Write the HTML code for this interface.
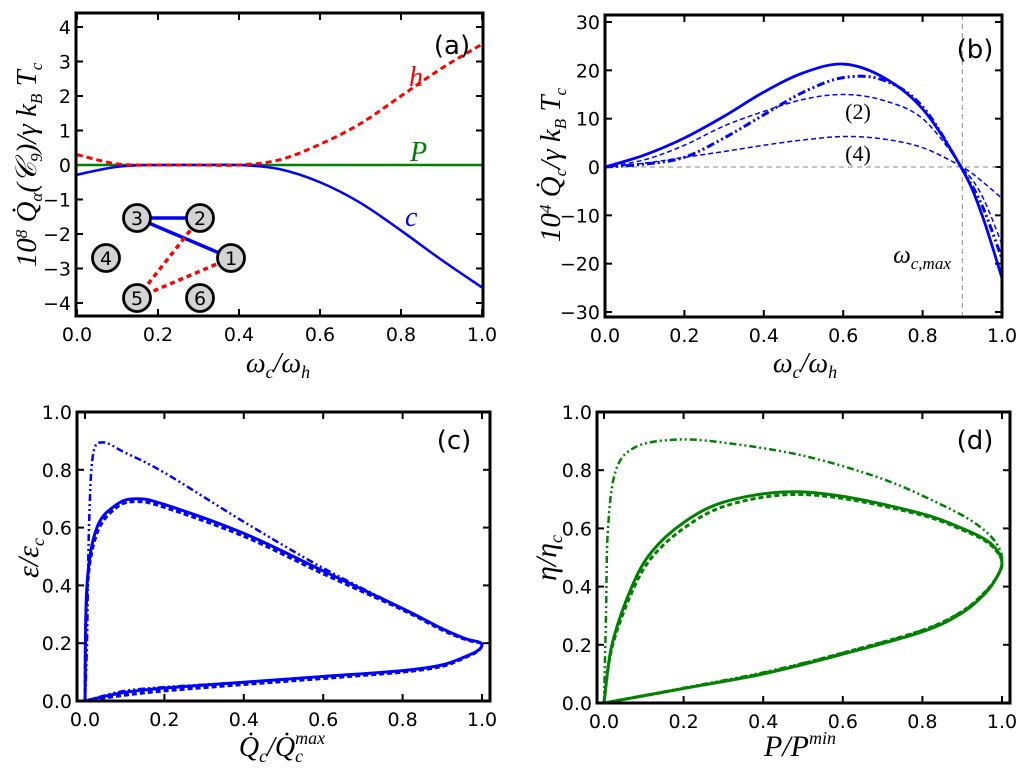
<!DOCTYPE html>
<html><head><meta charset="utf-8"><style>
body{margin:0;background:#fff}
svg{display:block;font-family:"DejaVu Sans","Liberation Sans",sans-serif}
.tk{font-size:19px}
.m{font-family:"Liberation Serif","DejaVu Serif",serif;font-style:italic}
</style></head><body>
<svg id="fig" width="1024" height="771" viewBox="0 0 1024 771"></svg>
<script>
// ---------- data ----------
const aX=[0,0.1,0.2,0.3,0.4,0.5,0.6,0.7,0.8,0.9,1.0];
const aH=[0.3,0.03,0,0,0,0.15,0.6,1.2,2.0,2.8,3.5];
const aC=[-0.28,-0.05,0,0,0,-0.12,-0.5,-1.1,-1.9,-2.75,-3.55];
const aP=[0,0,0,0,0,0,0,0,0,0,0];
const bX=[0,0.1,0.2,0.3,0.4,0.5,0.6,0.7,0.8,0.9,0.95,1.0];
const bSolid=[0,2.5,6,10.5,15.5,19.5,21.3,18.6,12,-0.5,-10,-23];
const bDashDot=[0,0.6,2,6,10.8,15.5,18.5,18,12.5,-0.5,-8,-19];
const bDash2=[0,1.5,4.5,8.5,11.5,14,15,13.8,10,0,-6,-16];
const bDash4=[0,0.8,2,3.2,4.5,5.6,6.3,5.8,4,0,-3,-6.5];
const cSolidX=[0,0.005,0.03,0.08,0.13,0.2,0.4,0.6,0.8,0.9,0.96,0.99,1.0,0.99,0.96,0.9,0.8,0.6,0.4,0.2,0.1,0.03,0];
const cSolidY=[0,0.4,0.6,0.68,0.7,0.68,0.58,0.45,0.32,0.25,0.215,0.205,0.195,0.175,0.155,0.125,0.105,0.085,0.065,0.045,0.03,0.01,0];
const cDashY=[0,0.38,0.58,0.67,0.69,0.67,0.57,0.44,0.315,0.245,0.212,0.203,0.195,0.173,0.152,0.12,0.1,0.078,0.057,0.035,0.02,0.006,0];
const cDdX=[0,0.005,0.01,0.02,0.045,0.1,0.2,0.4,0.6,0.8,0.9,0.96,0.99,1.0,0.99,0.96,0.9,0.8,0.6,0.4,0.2,0.1,0.03,0];
const cDdY=[0,0.2,0.6,0.85,0.895,0.86,0.79,0.62,0.46,0.32,0.25,0.215,0.205,0.195,0.175,0.155,0.125,0.105,0.085,0.065,0.048,0.035,0.012,0];
const dSolidX=[0,0.02,0.07,0.12,0.2,0.3,0.45,0.6,0.8,0.9,0.96,0.99,1.0,0.99,0.96,0.9,0.8,0.6,0.4,0.2,0];
const dSolidY=[0,0.2,0.4,0.52,0.62,0.69,0.725,0.71,0.65,0.6,0.56,0.52,0.48,0.44,0.38,0.31,0.245,0.168,0.1,0.05,0];
const dDashY=[0,0.19,0.38,0.5,0.6,0.675,0.715,0.703,0.645,0.595,0.555,0.515,0.48,0.44,0.385,0.315,0.25,0.172,0.102,0.05,0];
const dDdX=[0,0.005,0.01,0.03,0.08,0.18,0.3,0.5,0.7,0.85,0.93,0.98,1.0,0.99,0.96,0.9,0.8,0.6,0.4,0.2,0];
const dDdY=[0,0.3,0.6,0.8,0.88,0.905,0.895,0.85,0.77,0.68,0.62,0.56,0.5,0.44,0.385,0.315,0.25,0.172,0.105,0.052,0];
const ticks01=[0,0.2,0.4,0.6,0.8,1.0];
const aYt=[-4,-3,-2,-1,0,1,2,3,4];
const bYt=[-30,-20,-10,0,10,20,30];
// ---------- helpers ----------
const NS="http://www.w3.org/2000/svg",svg=document.getElementById('fig');
function el(t,a,p){const e=document.createElementNS(NS,t);for(const k in a)e.setAttribute(k,a[k]);(p||svg).appendChild(e);return e;}
function lin(d0,d1,r0,r1){return v=>r0+(v-d0)/(d1-d0)*(r1-r0);}
function smooth(pts){let d=`M${pts[0][0]},${pts[0][1]}`;for(let i=0;i<pts.length-1;i++){const p0=pts[i-1]||pts[i],p1=pts[i],p2=pts[i+1],p3=pts[i+2]||p2;
d+=`C${p1[0]+(p2[0]-p0[0])/6},${p1[1]+(p2[1]-p0[1])/6} ${p2[0]-(p3[0]-p1[0])/6},${p2[1]-(p3[1]-p1[1])/6} ${p2[0]},${p2[1]}`;}return d;}
function line(xs,ys,sx,sy,st,name,g){const p=el('path',{d:smooth(xs.map((x,i)=>[sx(x),sy(ys[i])])),fill:'none','stroke-linejoin':'round',...st},g);

return p;}
function axes(name,L,T,R,B,sx,sy,xt,yt,fx,fy){
 const g=el('g',{});
 
 
 xt.forEach(v=>{const x=sx(v);el('line',{x1:x,x2:x,y1:B,y2:B-7,stroke:'#000','stroke-width':2},g);el('line',{x1:x,x2:x,y1:T,y2:T+7,stroke:'#000','stroke-width':2},g);
  const t=el('text',{x:x,y:B+25,'text-anchor':'middle',class:'tk'},g);t.textContent=fx(v);
  
  });
 yt.forEach(v=>{const y=sy(v);el('line',{x1:L,x2:L+7,y1:y,y2:y,stroke:'#000','stroke-width':2},g);el('line',{x1:R,x2:R-7,y1:y,y2:y,stroke:'#000','stroke-width':2},g);
  const t=el('text',{x:L-5,y:y+7,'text-anchor':'end',class:'tk'},g);t.textContent=fy(v);
  
  });
 return g;}
function frame(L,T,R,B){const r=el('rect',{x:L,y:T,width:R-L,height:B-T,fill:'none',stroke:'#000','stroke-width':3});
 
 }
function txt(x,y,s,attrs,name){const t=el('text',{x,y,...attrs});t.innerHTML=s;
 
 return t;}
const f1=v=>v.toFixed(1), fi=v=>(v<0?'\u2212':'')+Math.abs(v);
const blue='#0000ff',red='#ff0000',green='#008000';
// ---------- panel a ----------
{const sx=lin(0,1,77,482),sy=lin(0,4,165,27);
 axes('panel-a-axes',76,13,483,316,sx,sy,ticks01,aYt,f1,fi);
 line(aX,aP,sx,sy,{stroke:green,'stroke-width':2.5},'p-line');
 line(aX,aC,sx,sy,{stroke:blue,'stroke-width':2.5},'c-line');
 line(aX,aH,sx,sy,{stroke:red,'stroke-width':3,'stroke-dasharray':'6,4'},'h-line');
 const N={1:[231,258],2:[200,218],3:[137,218],4:[106,258],5:[137,298],6:[200,298]};
 [[3,2],[3,1]].forEach(([a,b])=>{const l=el('line',{x1:N[a][0],y1:N[a][1],x2:N[b][0],y2:N[b][1],stroke:blue,'stroke-width':3.5});
  
  });
 [[5,2],[5,1]].forEach(([a,b])=>{const l=el('line',{x1:N[a][0],y1:N[a][1],x2:N[b][0],y2:N[b][1],stroke:red,'stroke-width':3.5,'stroke-dasharray':'5,4'});
  
  });
 for(const k in N){const c=el('circle',{cx:N[k][0],cy:N[k][1],r:13.5,fill:'#d3d3d3',stroke:'#000','stroke-width':2.8});
  
  
  txt(N[k][0],N[k][1]+7,k,{'text-anchor':'middle','font-size':19},'node-label');}
 frame(76,13,483,316);
 txt(452,54,'(a)',{'text-anchor':'middle','font-size':26},'panel-a-label');
 txt(409,86,'h',{class:'m','font-size':28,fill:red},'h-label');
 txt(410,161,'P',{class:'m','font-size':28,fill:green},'p-label');
 txt(405,226,'c',{class:'m','font-size':28,fill:blue},'c-label');
 txt(278,372,'ω<tspan dy="6" font-size="18">c</tspan><tspan dy="-6">/ω</tspan><tspan dy="6" font-size="18">h</tspan>',{class:'m','text-anchor':'middle','font-size':28},'x-axis-title-a');
 txt(0,0,'10<tspan dy="-9" font-size="17">8</tspan><tspan dy="9"> Q̇</tspan><tspan dy="6" font-size="17">α</tspan><tspan dy="-6">(𝒞</tspan><tspan dy="6" font-size="17">9</tspan><tspan dy="-6">)/γ k</tspan><tspan dy="6" font-size="17">B</tspan><tspan dy="-6"> T</tspan><tspan dy="6" font-size="17">c</tspan>',{class:'m','text-anchor':'middle','font-size':29,transform:'translate(36,165) rotate(-90)'},'y-axis-title-a');
}
// ---------- panel b ----------
{const sx=lin(0,1,605,1002),sy=lin(0,30,167,22);
 axes('panel-b-axes',605,15,1002,317,sx,sy,ticks01,bYt,f1,fi);
 const g1=el('line',{x1:605,x2:1002,y1:sy(0),y2:sy(0),stroke:'#888','stroke-width':1,'stroke-dasharray':'5,4'});
 
 
 const g2=el('line',{x1:sx(0.9),x2:sx(0.9),y1:15,y2:317,stroke:'#888','stroke-width':1,'stroke-dasharray':'5,4'});
 
 
 line(bX,bDash4,sx,sy,{stroke:blue,'stroke-width':1.5,'stroke-dasharray':'5,3'},'curve-4');
 line(bX,bDash2,sx,sy,{stroke:blue,'stroke-width':1.5,'stroke-dasharray':'5,3'},'curve-2');
 line(bX,bDashDot,sx,sy,{stroke:blue,'stroke-width':3,'stroke-dasharray':'8,3,2,3,2,3'},'curve-dashdot');
 line(bX,bSolid,sx,sy,{stroke:blue,'stroke-width':2.8},'curve-solid');
 frame(605,15,1002,317);
 txt(975,58,'(b)',{'text-anchor':'middle','font-size':26},'panel-b-label');
 txt(858,119,'(2)',{'text-anchor':'middle','font-size':22,'font-family':'Liberation Serif,serif'},'curve-2-label');
 txt(858,161,'(4)',{'text-anchor':'middle','font-size':22,'font-family':'Liberation Serif,serif'},'curve-4-label');
 txt(922,263,'ω<tspan dy="6" font-size="17">c,max</tspan>',{class:'m','text-anchor':'middle','font-size':25},'omega-max-label');
 txt(805,372,'ω<tspan dy="6" font-size="18">c</tspan><tspan dy="-6">/ω</tspan><tspan dy="6" font-size="18">h</tspan>',{class:'m','text-anchor':'middle','font-size':28},'x-axis-title-b');
 txt(0,0,'10<tspan dy="-9" font-size="17">4</tspan><tspan dy="9"> Q̇</tspan><tspan dy="6" font-size="17">c</tspan><tspan dy="-6">/γ k</tspan><tspan dy="6" font-size="17">B</tspan><tspan dy="-6"> T</tspan><tspan dy="6" font-size="17">c</tspan>',{class:'m','text-anchor':'middle','font-size':29,transform:'translate(560,165) rotate(-90)'},'y-axis-title-b');
}
// ---------- panel c ----------
{const sx=lin(0,1,85,482),sy=lin(0,1,701,412);
 axes('panel-c-axes',77,412,490,701,sx,sy,ticks01,ticks01,f1,f1);
 line(cDdX,cDdY,sx,sy,{stroke:blue,'stroke-width':2.5,'stroke-dasharray':'7,3,2,3,2,3'},'c-dashdot');
 line(cSolidX,cDashY,sx,sy,{stroke:blue,'stroke-width':3,'stroke-dasharray':'5,3'},'c-dashed');
 line(cSolidX,cSolidY,sx,sy,{stroke:blue,'stroke-width':3},'c-solid');
 frame(77,412,490,701);
 txt(454,449,'(c)',{'text-anchor':'middle','font-size':26},'panel-c-label');
 txt(282,756,'Q̇<tspan dy="6" font-size="18">c</tspan><tspan dy="-6">/Q̇</tspan><tspan dy="-12" font-size="18">max</tspan><tspan dy="18" dx="-30" font-size="18">c</tspan>',{class:'m','text-anchor':'middle','font-size':28},'x-axis-title-c');
 txt(0,0,'ε/ε<tspan dy="6" font-size="18">c</tspan>',{class:'m','text-anchor':'middle','font-size':30,transform:'translate(38,558) rotate(-90)'},'y-axis-title-c');
}
// ---------- panel d ----------
{const sx=lin(0,1,604,1002),sy=lin(0,1,703,412);
 axes('panel-d-axes',597,412,1010,703,sx,sy,ticks01,ticks01,f1,f1);
 line(dDdX,dDdY,sx,sy,{stroke:green,'stroke-width':2.5,'stroke-dasharray':'7,3,2,3,2,3'},'d-dashdot');
 line(dSolidX,dDashY,sx,sy,{stroke:green,'stroke-width':3,'stroke-dasharray':'5,3'},'d-dashed');
 line(dSolidX,dSolidY,sx,sy,{stroke:green,'stroke-width':3},'d-solid');
 frame(597,412,1010,703);
 txt(975,449,'(d)',{'text-anchor':'middle','font-size':26},'panel-d-label');
 txt(800,756,'P/P<tspan dy="-12" font-size="18">min</tspan>',{class:'m','text-anchor':'middle','font-size':30},'x-axis-title-d');
 txt(0,0,'η/η<tspan dy="6" font-size="18">c</tspan>',{class:'m','text-anchor':'middle','font-size':30,transform:'translate(556,558) rotate(-90)'},'y-axis-title-d');
}
</script>
</body></html>
